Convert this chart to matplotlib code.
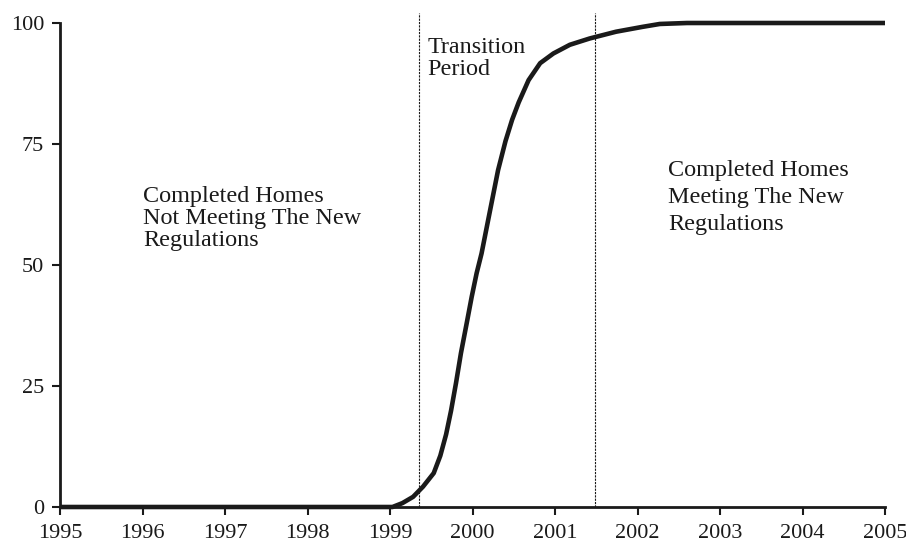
import matplotlib
matplotlib.use("Agg")
import matplotlib.pyplot as plt

# share of completed homes meeting the new regulations (%)
years = [1995.0, 1996.0, 1997.0, 1998.0, 1999.0, 1999.03, 1999.15, 1999.28,
         1999.40, 1999.53, 1999.61, 1999.68, 1999.74, 1999.80, 1999.86,
         1999.93, 1999.99, 2000.05, 2000.11, 2000.19, 2000.31, 2000.40,
         2000.48, 2000.56, 2000.68, 2000.82, 2000.98, 2001.18, 2001.42,
         2001.74, 2002.06, 2002.27, 2002.60, 2003.0, 2004.0, 2005.0]
share = [0, 0, 0, 0, 0, 0, 0.8, 2.1,
         4.2, 7.0, 10.6, 15.0, 19.9, 25.6, 31.8,
         38.0, 43.4, 48.3, 52.4, 59.3, 69.6, 75.6,
         80.0, 83.6, 88.2, 91.7, 93.7, 95.5, 96.8,
         98.2, 99.2, 99.8, 100, 100, 100, 100]

transition = [1999.35, 2001.48]
xticks = list(range(1995, 2006))
yticks = [0, 25, 50, 75, 100]

ink = "#1a1a1a"
plt.rcParams["font.family"] = ["Liberation Serif", "DejaVu Serif"]

fig = plt.figure(figsize=(9.06, 5.43), dpi=100)
ax = fig.add_axes([60 / 906, 36 / 543, 825 / 906, 484 / 543])

for xv in transition:
    ax.plot([xv, xv], [0, 102], color=ink, lw=0.8, ls=(0, (2, 1)),
            clip_on=False, zorder=1)

ax.plot(years, share, color=ink, lw=3.3, solid_capstyle="butt",
        solid_joinstyle="round", clip_on=False, zorder=3)

ax.set_xlim(1995, 2005)
ax.set_ylim(0, 100)
ax.set_xticks(xticks)
ax.set_yticks(yticks)
ax.set_xticklabels([str(v) for v in xticks])
ax.set_yticklabels([str(v) for v in yticks])

for s in ["top", "right"]:
    ax.spines[s].set_visible(False)
for s in ["left", "bottom"]:
    ax.spines[s].set_linewidth(2)
    ax.spines[s].set_color(ink)
ax.tick_params(direction="out", length=5.5, width=1.5, color=ink,
               labelsize=16, labelcolor=ink)
ax.tick_params(axis="x", pad=7)
ax.tick_params(axis="y", pad=6)

# va="baseline" puts the last line's baseline on y
txt = dict(fontsize=17.4, color=ink, va="baseline", ha="left")
ax.text(1996.01, 53.9, "Completed Homes\nNot Meeting The New\nRegulations",
        linespacing=1.07, **txt)
ax.text(1999.45, 89.3, "Transition\nPeriod", linespacing=1.03, **txt)
ax.text(2002.37, 57.2, "Completed Homes\nMeeting The New\nRegulations",
        linespacing=1.37, **txt)

fig.savefig("out.png", dpi=100)
